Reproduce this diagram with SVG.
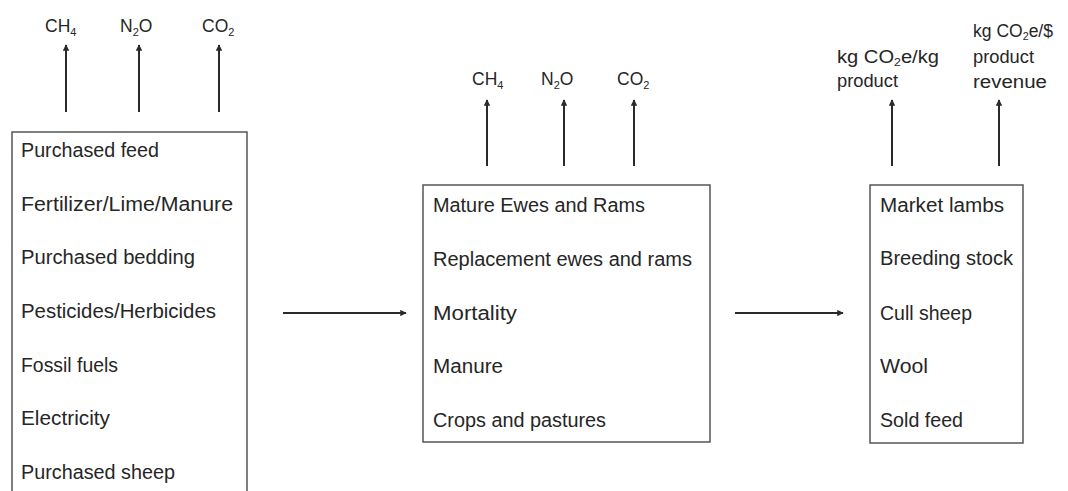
<svg xmlns="http://www.w3.org/2000/svg" width="1068" height="491" viewBox="0 0 1068 491">
<defs>
<marker id="ah" viewBox="0 0 10 10" refX="9" refY="5" markerWidth="3.2" markerHeight="3.2" orient="auto" markerUnits="strokeWidth">
<path d="M0,0 L10,5 L0,10 z" fill="#2a2a2a"/>
</marker>
</defs>
<style>
text{font-family:"Liberation Sans",Arial,sans-serif;font-size:19.5px;fill:#262626}
.gas{font-size:17.5px}
.met{font-size:18px}
.sub{font-size:11px}
.box{fill:#fff;stroke:#555;stroke-width:1.5}
.arr{stroke:#2a2a2a;stroke-width:2;fill:none;marker-end:url(#ah)}
</style>
<rect width="1068" height="491" fill="#fff"/>
<g id="connectors">
<line class="arr" x1="66" y1="112" x2="66" y2="45"/>
<line class="arr" x1="139" y1="112" x2="139" y2="45"/>
<line class="arr" x1="219" y1="112" x2="219" y2="45"/>
<line class="arr" x1="487" y1="166" x2="487" y2="100"/>
<line class="arr" x1="564" y1="166" x2="564" y2="100"/>
<line class="arr" x1="634" y1="166" x2="634" y2="100"/>
<line class="arr" x1="892" y1="166" x2="892" y2="100"/>
<line class="arr" x1="999" y1="166" x2="999" y2="100"/>
<line class="arr" x1="283" y1="313" x2="406" y2="313"/>
<line class="arr" x1="735" y1="313" x2="843" y2="313"/>
</g>
<g id="inputs">
<rect class="box" x="12" y="132" width="235" height="370"/>
<text x="21" y="157" textLength="138" lengthAdjust="spacingAndGlyphs">Purchased feed</text>
<text x="21" y="211" textLength="212" lengthAdjust="spacingAndGlyphs">Fertilizer/Lime/Manure</text>
<text x="21" y="264" textLength="174" lengthAdjust="spacingAndGlyphs">Purchased bedding</text>
<text x="21" y="318" textLength="195" lengthAdjust="spacingAndGlyphs">Pesticides/Herbicides</text>
<text x="21" y="372" textLength="97" lengthAdjust="spacingAndGlyphs">Fossil fuels</text>
<text x="21" y="425" textLength="89" lengthAdjust="spacingAndGlyphs">Electricity</text>
<text x="21" y="479" textLength="154" lengthAdjust="spacingAndGlyphs">Purchased sheep</text>
</g>
<g id="input-emissions">
<text class="gas" x="45" y="32">CH<tspan class="sub" dy="4">4</tspan></text>
<text class="gas" x="120" y="32">N<tspan class="sub" dy="4">2</tspan><tspan dy="-4">O</tspan></text>
<text class="gas" x="202" y="32">CO<tspan class="sub" dy="4">2</tspan></text>
</g>
<g id="farm">
<rect class="box" x="423" y="185" width="287" height="257"/>
<text x="433" y="212" textLength="212" lengthAdjust="spacingAndGlyphs">Mature Ewes and Rams</text>
<text x="433" y="266" textLength="259" lengthAdjust="spacingAndGlyphs">Replacement ewes and rams</text>
<text x="433" y="320" textLength="84" lengthAdjust="spacingAndGlyphs">Mortality</text>
<text x="433" y="373" textLength="70" lengthAdjust="spacingAndGlyphs">Manure</text>
<text x="433" y="427" textLength="173" lengthAdjust="spacingAndGlyphs">Crops and pastures</text>
</g>
<g id="farm-emissions">
<text class="gas" x="472" y="85">CH<tspan class="sub" dy="4">4</tspan></text>
<text class="gas" x="541" y="85">N<tspan class="sub" dy="4">2</tspan><tspan dy="-4">O</tspan></text>
<text class="gas" x="617" y="85">CO<tspan class="sub" dy="4">2</tspan></text>
</g>
<g id="outputs">
<rect class="box" x="870" y="185" width="153" height="258"/>
<text x="880" y="212" textLength="124" lengthAdjust="spacingAndGlyphs">Market lambs</text>
<text x="880" y="265" textLength="133" lengthAdjust="spacingAndGlyphs">Breeding stock</text>
<text x="880" y="320" textLength="92" lengthAdjust="spacingAndGlyphs">Cull sheep</text>
<text x="880" y="373" textLength="48" lengthAdjust="spacingAndGlyphs">Wool</text>
<text x="880" y="427" textLength="83" lengthAdjust="spacingAndGlyphs">Sold feed</text>
</g>
<g id="metric-product">
<text class="met" x="837" y="63" textLength="102" lengthAdjust="spacingAndGlyphs">kg CO<tspan class="sub" dy="3">2</tspan><tspan dy="-3">e/kg</tspan></text>
<text class="met" x="837" y="87" textLength="61" lengthAdjust="spacingAndGlyphs">product</text>
</g>
<g id="metric-revenue">
<text class="met" x="973" y="37" textLength="80" lengthAdjust="spacingAndGlyphs">kg CO<tspan class="sub" dy="3">2</tspan><tspan dy="-3">e/$</tspan></text>
<text class="met" x="973" y="63" textLength="61" lengthAdjust="spacingAndGlyphs">product</text>
<text class="met" x="973" y="88" textLength="74" lengthAdjust="spacingAndGlyphs">revenue</text>
</g>
</svg>
